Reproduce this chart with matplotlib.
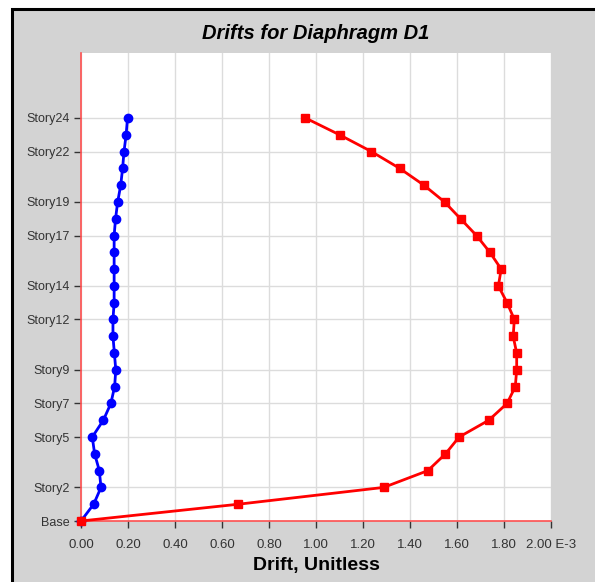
import numpy as np
import matplotlib
matplotlib.use('Agg')
import matplotlib.pyplot as plt
from matplotlib.patches import Rectangle

plt.rcParams['font.family'] = ['Liberation Sans', 'DejaVu Sans']

# story levels 0 (Base) .. 24
levels = np.arange(0, 25)
tick_levels = [0, 2, 5, 7, 9, 12, 14, 17, 19, 22, 24]
tick_names = ['Base', 'Story2', 'Story5', 'Story7', 'Story9', 'Story12',
              'Story14', 'Story17', 'Story19', 'Story22', 'Story24']

# drifts (E-3), from Base up to Story24
drift_blue = [0.0, 0.054, 0.085, 0.078, 0.058, 0.048, 0.095, 0.127, 0.143,
              0.148, 0.142, 0.136, 0.136, 0.141, 0.141, 0.141, 0.141, 0.141,
              0.147, 0.156, 0.169, 0.177, 0.183, 0.192, 0.198]
drift_red = [0.0, 0.670, 1.288, 1.476, 1.551, 1.609, 1.735, 1.813, 1.848,
             1.854, 1.854, 1.839, 1.844, 1.813, 1.776, 1.788, 1.740, 1.683,
             1.615, 1.547, 1.459, 1.356, 1.236, 1.100, 0.955]

x_ticks = np.arange(0, 2.01, 0.2)
x_labels = ['%.2f' % v for v in x_ticks]
x_labels[-1] = '2.00 E-3'

fig = plt.figure(figsize=(5.95, 5.82), dpi=100)
fig.patch.set_facecolor('white')
frame = Rectangle((12 / 595, -0.05), 1.1, 1 - 8.5 / 582 + 0.05,
                  transform=fig.transFigure, facecolor='#d3d3d3',
                  edgecolor='black', linewidth=2.2, zorder=-10)
fig.add_artist(frame)

ax = fig.add_axes([81 / 595, 1 - 521 / 582, 470 / 595, 468 / 582])
ax.set_facecolor('white')

ax.plot(drift_blue, levels, color='blue', lw=2, marker='o', ms=6,
        clip_on=False, zorder=3)
ax.plot(drift_red, levels, color='red', lw=2, marker='s', ms=5.5,
        clip_on=False, zorder=4)

ax.set_xlim(0, 2.0)
ax.set_ylim(0, 27.87)
ax.set_xticks(x_ticks)
ax.set_xticklabels(x_labels)
ax.set_yticks(tick_levels)
ax.set_yticklabels(tick_names)
ax.grid(True, color='#dcdcdc', lw=1)
ax.set_axisbelow(True)

for s in ['top', 'right']:
    ax.spines[s].set_visible(False)
for s in ['left', 'bottom']:
    ax.spines[s].set_color('#ff5050')
    ax.spines[s].set_linewidth(1.2)
ax.tick_params(axis='both', colors='#333333', length=5, width=1)
ax.tick_params(axis='y', labelsize=9, pad=3)
ax.tick_params(axis='x', labelsize=9.5, pad=8)

ax.set_title('Drifts for Diaphragm D1', fontsize=14.5, fontweight='bold',
             fontstyle='italic', pad=10)
ax.set_xlabel('Drift, Unitless', fontsize=14, fontweight='bold', labelpad=4)

fig.savefig('out.png', dpi=100, facecolor=fig.get_facecolor())
